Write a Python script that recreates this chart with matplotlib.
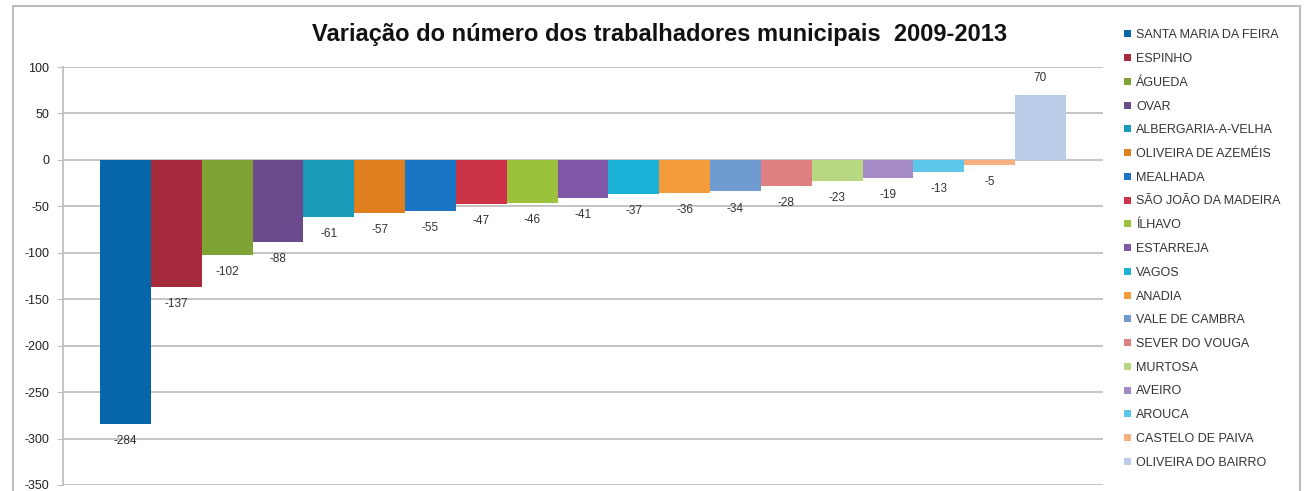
import matplotlib
matplotlib.use("Agg")
import matplotlib.pyplot as plt
from matplotlib.patches import Rectangle

municipios = [
    "SANTA MARIA DA FEIRA", "ESPINHO", "ÁGUEDA", "OVAR", "ALBERGARIA-A-VELHA",
    "OLIVEIRA DE AZEMÉIS", "MEALHADA", "SÃO JOÃO DA MADEIRA", "ÍLHAVO", "ESTARREJA",
    "VAGOS", "ANADIA", "VALE DE CAMBRA", "SEVER DO VOUGA", "MURTOSA",
    "AVEIRO", "AROUCA", "CASTELO DE PAIVA", "OLIVEIRA DO BAIRRO",
]
variacao = [-284, -137, -102, -88, -61, -57, -55, -47, -46, -41,
            -37, -36, -34, -28, -23, -19, -13, -5, 70]
cores = [
    "#0766AA", "#A62B3C", "#7EA233", "#6B4A8E", "#1A9AB9",
    "#DF7F1F", "#1A76C5", "#CC3347", "#9CC23D", "#7F56A8",
    "#1CB2D8", "#F49C3B", "#6F9BD0", "#E07F81", "#B7D780",
    "#A48BC5", "#5CC7E8", "#F7B07F", "#BACDE8",
]
yticks = list(range(-350, 101, 50))

fig = plt.figure(figsize=(13.08, 4.91), dpi=100)
plt.rcParams["font.family"] = ["Liberation Sans", "DejaVu Sans"]

# outer chart frame
fig.patches.append(Rectangle((13 / 1308, -0.05), (1300 - 13) / 1308, 1.05 - 6 / 491,
                             transform=fig.transFigure, fill=False,
                             edgecolor="#BDBDBD", linewidth=1.5))

ax = fig.add_axes([63 / 1308, 1 - 485 / 491, 1040 / 1308, (485 - 67) / 491])
x = list(range(len(variacao)))
bars = ax.bar(x, variacao, width=1.0, color=cores, zorder=3)

for xi, v in zip(x, variacao):
    off = 8 if v > 0 else -8
    ax.annotate(str(v), (xi, v), xytext=(0, off), textcoords="offset points",
                ha="center", va="bottom" if v > 0 else "top", fontsize=8.5, color="#333333")

ax.set_xlim(-0.5 - 0.73, len(x) - 0.5 + 0.73)
ax.set_ylim(-350, 100)
ax.set_yticks(yticks)
ax.set_yticklabels([str(t) for t in yticks], fontsize=9, color="#222222")
ax.set_xticks([])
ax.grid(axis="y", color="#BFBFBF", linewidth=1.3, zorder=0)
for side in ("top", "right", "bottom"):
    ax.spines[side].set_visible(False)
ax.spines["left"].set_color("#BFBFBF")
ax.spines["left"].set_linewidth(1.3)
ax.tick_params(axis="y", length=4, color="#BFBFBF", pad=6)

fig.text(660 / 1308, 1 - 34 / 491, "Variação do número dos trabalhadores municipais  2009-2013",
         ha="center", va="center", fontsize=17, fontweight="bold", color="#111111")

ax.legend(bars, municipios, loc="upper left", bbox_to_anchor=(1113 / 1308, 1 - 18 / 491),
          bbox_transform=fig.transFigure, frameon=False, fontsize=9,
          handlelength=0.5, handleheight=0.5, handletextpad=0.45, labelspacing=0.94,
          labelcolor="#333333")

fig.savefig("out.png", dpi=100)
